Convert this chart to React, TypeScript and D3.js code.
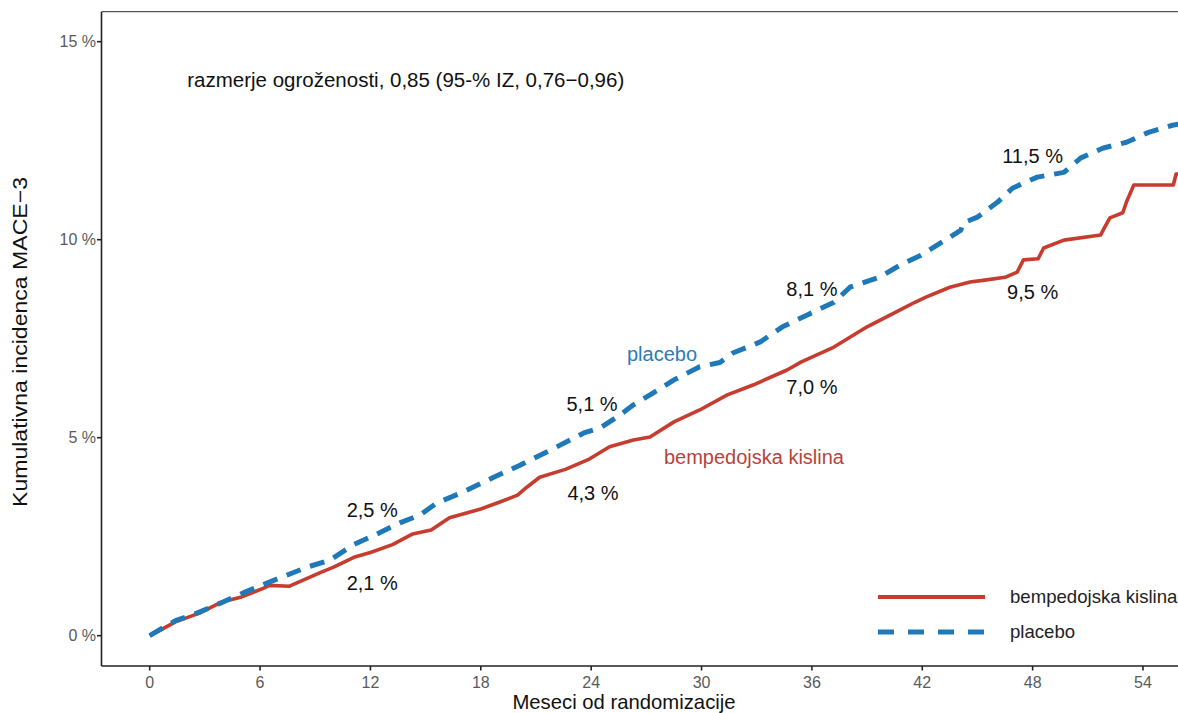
import React from "react";
import * as d3 from "d3";

// ---- data ----
const MONTH_TICKS = [0, 6, 12, 18, 24, 30, 36, 42, 48, 54];
const PCT_TICKS = [0, 5, 10, 15];
const PCT_TICK_LABELS = ["0 %", "5 %", "10 %", "15 %"];

const bempedoicMonths = [
  0, 0.5, 1.4, 2.7, 3.9, 5.0, 6.2, 6.5, 7.6, 9.3, 10.0, 11.1, 12.0, 13.2, 14.3, 15.3,
  16.3, 18.0, 19.0, 20.0, 20.5, 21.2, 22.6, 23.9, 25.0, 26.3, 27.2, 28.5, 29.9, 31.4,
  32.8, 34.65, 35.4, 37.2, 39.0, 40.8, 41.6, 42.2, 43.5, 44.6, 45.4, 46.5, 47.16, 47.5,
  48.3, 48.6, 49.7, 51.7, 51.9, 52.2, 52.9, 53.1, 53.5, 55.65, 55.8, 57.0,
];
const bempedoicPct = [
  0, 0.12, 0.35, 0.57, 0.85, 0.98, 1.2, 1.27, 1.25, 1.6, 1.73, 1.98, 2.1, 2.3, 2.57, 2.67,
  2.98, 3.2, 3.37, 3.55, 3.75, 4.0, 4.2, 4.46, 4.77, 4.94, 5.02, 5.4, 5.7, 6.08,
  6.33, 6.71, 6.91, 7.29, 7.8, 8.23, 8.42, 8.55, 8.8, 8.93, 8.98, 9.05, 9.18, 9.49,
  9.52, 9.79, 9.99, 10.12, 10.3, 10.55, 10.68, 10.95, 11.38, 11.38, 11.66, 11.66,
];

const placeboMonths = [
  0, 0.5, 1.4, 2.57, 3.99, 5.08, 6.38, 8.55, 9.8, 11.05, 12.36, 13.6, 14.7, 15.6, 16.9,
  18.7, 20.1, 21.8, 23.6, 24.5, 25.4, 26.3, 27.2, 28.5, 29.9, 31.0, 31.7, 33.2, 34.4,
  35.75, 37.2, 38.07, 39.7, 40.8, 41.9, 43.0, 44.1, 44.2, 45.0, 46.1, 46.9, 48.25,
  49.7, 50.6, 51.8, 53.1, 54.3, 55.6, 57.0,
];
const placeboPct = [
  0, 0.14, 0.38, 0.57, 0.85, 1.08, 1.33, 1.73, 1.91, 2.29, 2.57, 2.85, 3.05, 3.35, 3.6,
  4.0, 4.3, 4.69, 5.12, 5.25, 5.52, 5.83, 6.08, 6.46, 6.79, 6.9, 7.14, 7.42, 7.8,
  8.1, 8.42, 8.8, 9.06, 9.36, 9.6, 9.92, 10.24, 10.42, 10.57, 10.95, 11.3, 11.58,
  11.7, 12.06, 12.31, 12.46, 12.71, 12.89, 13.0,
];

const ANNOTATION = "razmerje ogroženosti, 0,85 (95-% IZ, 0,76−0,96)";
const valueLabels = [
  { text: "2,5 %", month: 12.1, pct: 3.17 },
  { text: "2,1 %", month: 12.1, pct: 1.33 },
  { text: "5,1 %", month: 24.05, pct: 5.85 },
  { text: "4,3 %", month: 24.1, pct: 3.6 },
  { text: "8,1 %", month: 36.0, pct: 8.75 },
  { text: "7,0 %", month: 36.0, pct: 6.28 },
  { text: "11,5 %", month: 48.0, pct: 12.11 },
  { text: "9,5 %", month: 48.0, pct: 8.68 },
];
const SERIES_NAMES = ["bempedojska kislina", "placebo"];
const X_TITLE = "Meseci od randomizacije";
const Y_TITLE = "Kumulativna incidenca MACE−3";

const RED = "#c63d2f";
const BLUE = "#1f78b8";
const FONT = "'Liberation Sans', Arial, Helvetica, sans-serif";

export default function App() {
  const W = 1178;
  const H = 713;
  const panelLeft = 101.5;
  const panelTop = 11.7;
  const panelBottom = 666;
  const panelRight = 1200;

  const x = d3.scaleLinear().domain([0, 54]).range([149.7, 1143]);
  const y = d3.scaleLinear().domain([0, 15]).range([635.7, 41.7]);

  const line = d3
    .line<[number, number]>()
    .x((d) => x(d[0]))
    .y((d) => y(d[1]))
    .curve(d3.curveLinear);

  const redPts = bempedoicMonths.map((m, i) => [m, bempedoicPct[i]] as [number, number]);
  const bluePts = placeboMonths.map((m, i) => [m, placeboPct[i]] as [number, number]);

  const capHalf = (fs: number) => fs * 0.716 * 0.5;

  return (
    <svg
      width={W}
      height={H}
      style={{ position: "absolute", left: 0, top: 0, background: "#fff" }}
      fontFamily={FONT}
    >
      <defs>
        <clipPath id="panel-clip">
          <rect x={panelLeft} y={panelTop} width={panelRight - panelLeft} height={panelBottom - panelTop} />
        </clipPath>
      </defs>
      <rect x={0} y={0} width={W} height={H} fill="#fff" />

      {/* panel border */}
      <line x1={panelLeft} x2={panelRight} y1={panelTop} y2={panelTop} stroke="#555" strokeWidth={1.3} />
      <line x1={panelLeft} x2={panelLeft} y1={panelTop} y2={panelBottom} stroke="#222" strokeWidth={1.6} />
      <line x1={panelLeft} x2={panelRight} y1={panelBottom} y2={panelBottom} stroke="#222" strokeWidth={1.6} />

      {/* y axis ticks */}
      {PCT_TICKS.map((t, i) => (
        <g key={"yt" + t}>
          <line x1={panelLeft - 4.5} x2={panelLeft} y1={y(t)} y2={y(t)} stroke="#222" strokeWidth={1.6} />
          <text x={panelLeft - 5.5} y={y(t) + capHalf(16)} textAnchor="end" fontSize={16} fill="#5a5a5a">
            {PCT_TICK_LABELS[i]}
          </text>
        </g>
      ))}

      {/* x axis ticks */}
      {MONTH_TICKS.map((t) => (
        <g key={"xt" + t}>
          <line x1={x(t)} x2={x(t)} y1={panelBottom} y2={panelBottom + 4.5} stroke="#222" strokeWidth={1.6} />
          <text x={x(t)} y={682 + capHalf(16)} textAnchor="middle" fontSize={16} fill="#5a5a5a">
            {t}
          </text>
        </g>
      ))}

      {/* axis titles */}
      <text x={624} y={709} textAnchor="middle" fontSize={20.3} fill="#111">
        {X_TITLE}
      </text>
      <text
        transform={`translate(${20 + capHalf(20)},${342}) rotate(-90)`}
        textAnchor="middle"
        fontSize={20}
        fill="#111"
        textLength={330}
        lengthAdjust="spacingAndGlyphs"
      >
        {Y_TITLE}
      </text>

      {/* curves */}
      <g clipPath="url(#panel-clip)">
        <path d={line(redPts) || ""} fill="none" stroke={RED} strokeWidth={3.6} strokeLinejoin="round" />
        <path
          d={line(bluePts) || ""}
          fill="none"
          stroke={BLUE}
          strokeWidth={5}
          strokeDasharray="15,10"
          strokeLinejoin="round"
        />
      </g>

      {/* annotation */}
      <text x={x(2.04)} y={y(14.03) + capHalf(20.5)} fontSize={20.5} fill="#111">
        {ANNOTATION}
      </text>

      {/* value labels */}
      {valueLabels.map((l) => (
        <text
          key={l.text}
          x={x(l.month)}
          y={y(l.pct) + capHalf(20)}
          textAnchor="middle"
          fontSize={20}
          fill="#111"
        >
          {l.text}
        </text>
      ))}

      {/* in-plot series labels */}
      <text x={x(27.85)} y={y(7.06) + 5} textAnchor="middle" fontSize={20} fill="#2b7bb9">
        {SERIES_NAMES[1]}
      </text>
      <text x={x(32.85)} y={y(4.49) + 6} textAnchor="middle" fontSize={20} fill="#b5443a">
        {SERIES_NAMES[0]}
      </text>

      {/* legend */}
      <g>
        <line x1={878} x2={985} y1={597} y2={597} stroke={RED} strokeWidth={4} />
        <text x={1010} y={597 + 6} fontSize={18.6} fill="#222">
          {SERIES_NAMES[0]}
        </text>
        <line x1={878} x2={985} y1={632} y2={632} stroke={BLUE} strokeWidth={5} strokeDasharray="16,14" />
        <text x={1010} y={632 + 6} fontSize={18.6} fill="#222">
          {SERIES_NAMES[1]}
        </text>
      </g>
    </svg>
  );
}
